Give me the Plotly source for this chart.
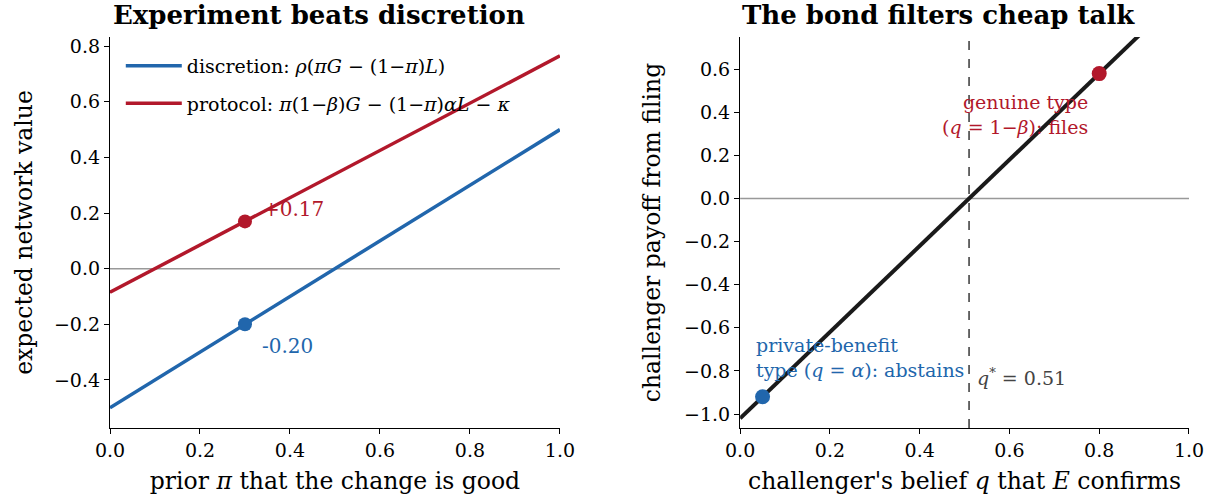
import plotly.graph_objects as go
from plotly.subplots import make_subplots

# ---- data ----
pi_grid = [0.0, 1.0]
discretion_vals = [-0.50, 0.50]
protocol_vals = [-0.085, 0.765]
pi_mark = [0.3]
disc_mark = [-0.20]
prot_mark = [0.17]

q_grid = [0.0, 1.0]
payoff_vals = [-1.02, 0.98]
q_star = 0.51
genuine_q = [0.80]
genuine_payoff = [0.58]
private_q = [0.05]
private_payoff = [-0.92]

left_xticks = [0.0, 0.2, 0.4, 0.6, 0.8, 1.0]
left_yticks = [-0.4, -0.2, 0.0, 0.2, 0.4, 0.6, 0.8]
right_xticks = [0.0, 0.2, 0.4, 0.6, 0.8, 1.0]
right_yticks = [-1.0, -0.8, -0.6, -0.4, -0.2, 0.0, 0.2, 0.4, 0.6]

BLUE = "#2166ac"
RED = "#b2182b"
SERIF = "DejaVu Serif"


def fmt(v):
    s = f"{v:.1f}"
    return s.replace("-", "\u2212")


fig = make_subplots(rows=1, cols=2, horizontal_spacing=0.1)

fig.add_trace(go.Scatter(x=pi_grid, y=discretion_vals, mode="lines",
                         line=dict(color=BLUE, width=3.5),
                         name="discretion: <i>ρ</i>(<i>πG</i> − (1−<i>π</i>)<i>L</i>)",
                         legendgroup="a"), row=1, col=1)
fig.add_trace(go.Scatter(x=pi_grid, y=protocol_vals, mode="lines",
                         line=dict(color=RED, width=3.5),
                         name="protocol: <i>π</i>(1−<i>β</i>)<i>G</i> − (1−<i>π</i>)<i>αL</i> − <i>κ</i>",
                         legendgroup="b"), row=1, col=1)
fig.add_trace(go.Scatter(x=pi_mark, y=disc_mark, mode="markers",
                         marker=dict(color=BLUE, size=14), showlegend=False), row=1, col=1)
fig.add_trace(go.Scatter(x=pi_mark, y=prot_mark, mode="markers",
                         marker=dict(color=RED, size=14), showlegend=False), row=1, col=1)

fig.add_trace(go.Scatter(x=q_grid, y=payoff_vals, mode="lines",
                         line=dict(color="#1a1a1a", width=4), showlegend=False), row=1, col=2)
fig.add_trace(go.Scatter(x=genuine_q, y=genuine_payoff, mode="markers",
                         marker=dict(color=RED, size=15), showlegend=False), row=1, col=2)
fig.add_trace(go.Scatter(x=private_q, y=private_payoff, mode="markers",
                         marker=dict(color=BLUE, size=15), showlegend=False), row=1, col=2)

axis_common = dict(showline=True, linecolor="black", linewidth=1.3, ticks="outside",
                   ticklen=5, tickwidth=1.3, tickcolor="black", showgrid=False,
                   zeroline=False, tickfont=dict(family=SERIF, size=19, color="black"),
                   mirror=False)

fig.update_xaxes(**axis_common)
fig.update_yaxes(**axis_common)

TITLE_FONT = dict(family=SERIF, size=23.5, color="black")

fig.update_xaxes(range=[0, 1], tickvals=left_xticks, ticktext=[fmt(v) for v in left_xticks],
                 domain=[0.0, 0.417],
                 title=dict(text="prior <i>π</i> that the change is good",
                            font=TITLE_FONT, standoff=12),
                 row=1, col=1)
fig.update_yaxes(range=[-0.573, 0.833], tickvals=left_yticks, ticktext=[fmt(v) for v in left_yticks],
                 title=dict(text="expected network value", font=TITLE_FONT, standoff=14),
                 row=1, col=1)
fig.update_xaxes(range=[0, 1], tickvals=right_xticks, ticktext=[fmt(v) for v in right_xticks],
                 domain=[0.584, 1.0],
                 title=dict(text="challenger's belief <i>q</i> that <i>E</i> confirms",
                            font=TITLE_FONT, standoff=12),
                 row=1, col=2)
fig.update_yaxes(range=[-1.065, 0.75], tickvals=right_yticks, ticktext=[fmt(v) for v in right_yticks],
                 title=dict(text="challenger payoff from filing", font=TITLE_FONT, standoff=16),
                 row=1, col=2)

# zero reference lines
fig.add_shape(type="line", xref="x domain", yref="y", x0=0, x1=1, y0=0, y1=0,
              line=dict(color="#999999", width=1.5), layer="below")
fig.add_shape(type="line", xref="x2 domain", yref="y2", x0=0, x1=1, y0=0, y1=0,
              line=dict(color="#999999", width=1.5), layer="below")
# threshold
fig.add_shape(type="line", xref="x2", yref="y2 domain", x0=q_star, x1=q_star, y0=0, y1=1,
              line=dict(color="#444444", width=1.6, dash="dash"), layer="below")

# annotations
fig.add_annotation(x=pi_mark[0], y=prot_mark[0], xref="x", yref="y",
                   text=f"{prot_mark[0]:+.2f}", showarrow=False, xanchor="left",
                   xshift=16, yshift=12, font=dict(family=SERIF, size=20, color=RED))
fig.add_annotation(x=pi_mark[0], y=disc_mark[0], xref="x", yref="y",
                   text=f"{disc_mark[0]:+.2f}".replace("+", ""), showarrow=False, xanchor="left",
                   xshift=15, yshift=-22, font=dict(family=SERIF, size=20, color=BLUE))
fig.add_annotation(x=0.78, y=genuine_payoff[0], xref="x2", yref="y2",
                   text="genuine type<br>(<i>q</i> = 1−<i>β</i>): files", showarrow=False,
                   xanchor="right", yanchor="top", align="right", yshift=-15,
                   font=dict(family=SERIF, size=19, color=RED))
fig.add_annotation(x=0.03, y=private_payoff[0], xref="x2", yref="y2",
                   text="private-benefit<br>type (<i>q</i> = <i>α</i>): abstains", showarrow=False,
                   xanchor="left", yanchor="bottom", align="left", yshift=14,
                   font=dict(family=SERIF, size=19, color=BLUE))
fig.add_annotation(x=q_star, y=-0.83, xref="x2", yref="y2",
                   text=f"<i>q</i><sup>*</sup> = {q_star:.2f}", showarrow=False,
                   xanchor="left", xshift=6,
                   font=dict(family=SERIF, size=19, color="#444444"))

# titles (left-aligned over each panel)
fig.add_annotation(x=0.0, y=1.0, xref="x domain", yref="y domain", yshift=22, xshift=1,
                   text="<b>Experiment beats discretion</b>", showarrow=False,
                   xanchor="left", yanchor="middle",
                   font=dict(family=SERIF, size=26, color="black"))
fig.add_annotation(x=0.0, y=1.0, xref="x2 domain", yref="y2 domain", yshift=22,
                   text="<b>The bond filters cheap talk</b>", showarrow=False,
                   xanchor="left", yanchor="middle",
                   font=dict(family=SERIF, size=26, color="black"))

fig.update_layout(
    width=1215, height=504,
    margin=dict(l=110, r=26, t=37, b=76),
    plot_bgcolor="white", paper_bgcolor="white",
    font=dict(family=SERIF, color="black"),
    legend=dict(x=0.01, y=0.975, xanchor="left", yanchor="top",
                font=dict(family=SERIF, size=19, color="black"),
                itemwidth=56,
                bgcolor="rgba(255,255,255,0)", tracegroupgap=10, traceorder="grouped"),
)

fig.write_html("out.html", config={"displayModeBar": False},
               post_script="document.body.style.margin='0';document.body.style.padding='0';")
